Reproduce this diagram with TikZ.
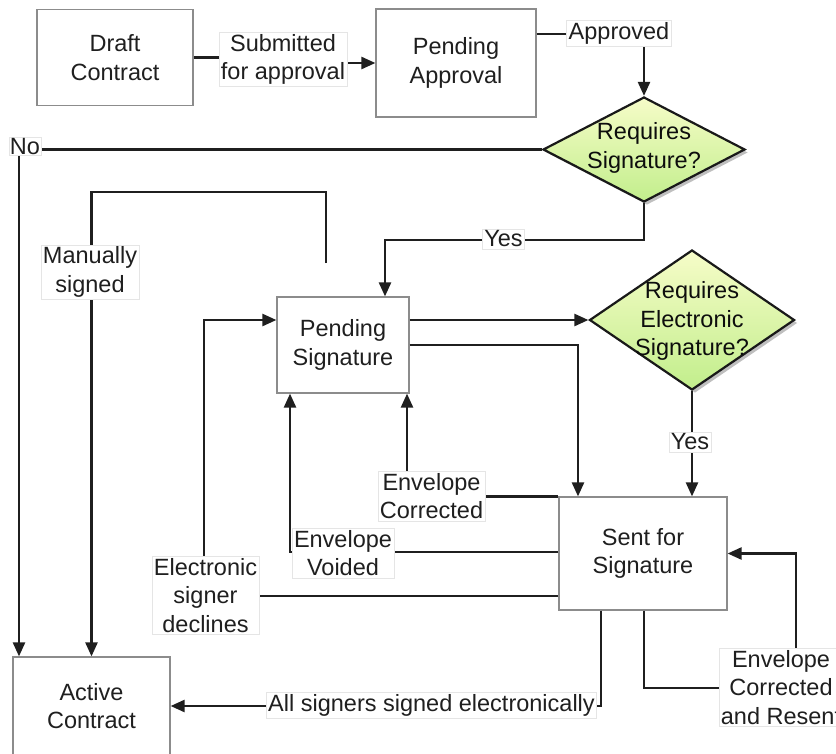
\documentclass[tikz,border=0pt]{standalone}
\usepackage{fontspec}
\setmainfont{Liberation Sans}
\usetikzlibrary{arrows.meta,shapes.geometric,shadows}
\definecolor{dtop}{HTML}{F6FCC8}
\definecolor{dbot}{HTML}{C2EE8C}
\begin{document}
\begin{tikzpicture}[x=1pt,y=-1pt,
 every node/.style={font=\fontsize{23.5}{28.5}\selectfont, text=black!88, align=center},
 box/.style={draw=black!45, line width=1.2pt, fill=white, inner sep=0pt},
 dec/.style={shape=diamond, draw=black!90, line width=2.2pt, top color=dtop, bottom color=dbot, inner sep=0pt,
   drop shadow={shadow xshift=3pt, shadow yshift=-3pt, opacity=0.25, fill=black}},
 lbl/.style={fill=white, draw=black!10, line width=0.6pt, inner sep=2pt},
 conn/.style={draw=black!88, line width=2.4pt, -{Triangle[length=14pt,width=12pt]}},
]
\useasboundingbox (0,0) rectangle (836,753);
\clip (0,0) rectangle (836,753);

% states
\node[box, minimum width=156pt, minimum height=96pt] (draft) at (115,57.5) {Draft\\Contract};
\node[box, minimum width=160pt, minimum height=108pt] (pa) at (456,63) {Pending\\Approval};
\node[box, minimum width=132pt, minimum height=96pt] (ps) at (343,345) {Pending\\Signature};
\node[box, minimum width=168pt, minimum height=113pt] (sent) at (643,553.5) {Sent for\\Signature};
\node[box, minimum width=157pt, minimum height=98pt] (active) at (91.5,706) {Active\\Contract};

% decisions
\node[dec, minimum width=202pt, minimum height=105pt] (d1) at (644,149.5) {};
\node[text=black!95] (d1t) at (644,148) {Requires\\Signature?};
\node[dec, minimum width=205pt, minimum height=140pt] (d2) at (692,320) {};
\node[text=black!95] (d2t) at (692,321) {Requires\\Electronic\\Signature?};

\coordinate (ms) at (326,263);

% connectors
\draw[conn] (draft.east) -- ++(90,0) |- (pa.west);
\draw[conn] (pa.east |- 0,34) -| (d1.north);
\draw[conn] (d1.west) -| (active.north -| 19,0);
\draw[conn] (d1.south) -- ++(0,37) -| (ps.north -| 385,0);
\draw[conn] (ms) |- (active.north |- 0,192) -- (active.north);
\draw[conn] (ps.east |- d2.west) -- (d2.west);
\draw[conn] (ps.east) -| (sent.north -| 578,0);
\draw[conn] (d2.south) -- (sent.north -| d2.south);
\draw[conn] (sent.north west) -| (ps.south -| 407,0);
\draw[conn] (sent.west |- 0,552) -| (ps.south -| 290,0);
\draw[conn] (sent.west |- 0,596) -| (204,320) -- (ps.west |- 0,320);
\draw[conn] (sent.south -| 601,0) |- (active.east);
\draw[conn] (sent.south -| 644,0) |- (796,688) |- (sent.east);

% labels
\node[lbl] (l1) at (283,59.5) {Submitted\\for approval};
\node[lbl] (l2) at (619,33) {Approved};
\node[lbl, inner sep=1pt] (l3) at (25,146.5) {No};
\node[lbl] (l4) at (503.5,239) {Yes};
\node[lbl] (l5) at (90,272) {Manually\\signed};
\node[lbl] (l6) at (690,442) {Yes};
\node[lbl] (l7) at (431.5,496) {Envelope\\Corrected};
\node[lbl] (l8) at (343,553) {Envelope\\Voided};
\node[lbl] (l9) at (205.5,595.5) {Electronic\\signer\\declines};
\node[lbl] (l10) at (431.5,705) {All signers signed electronically};
\node[lbl] (l11) at (781,687.5) {Envelope\\Corrected\\and Resent};
\end{tikzpicture}
\end{document}
